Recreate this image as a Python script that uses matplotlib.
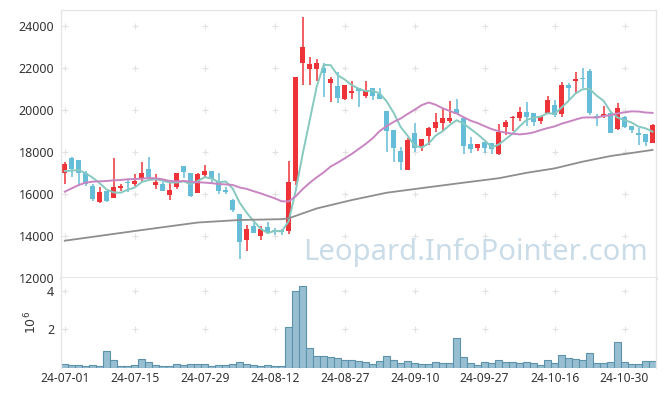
import numpy as np
import pandas as pd
import matplotlib
matplotlib.use("Agg")
import matplotlib.pyplot as plt
from matplotlib.ticker import FixedLocator

plt.rcParams["font.family"] = ["Noto Sans", "DejaVu Sans"]

# trading days (KRX calendar, Jul 1 - Nov 5 2024)
holidays = ["2024-08-15", "2024-09-16", "2024-09-17", "2024-09-18",
            "2024-10-01", "2024-10-03", "2024-10-09"]
dates = [d for d in pd.bdate_range("2024-07-01", "2024-11-05")
         if d.strftime("%Y-%m-%d") not in holidays]

opens = [16976, 17707, 17611, 17007, 16372, 15593, 16134, 15816, 16292, 16531,
         16483, 16721, 17182, 16435, 16467, 15959, 16340, 17325, 16992, 16052,
         16897, 17088, 16612, 16182, 15706, 15038, 13799, 14482, 14005, 14434,
         14291, 14275, 14244, 16628, 22221, 21966, 21966, 21998, 21283, 21124,
         20504, 20822, 21028, 20663, 21028, 20758, 19964, 19058, 18041, 17135,
         18899, 18248, 18772, 19153, 19392, 19487, 20027, 19598, 18359, 18200,
         18486, 18406, 17898, 19201, 19630, 19598, 19900, 19836, 19471, 19868,
         20234, 19804, 21203, 21393, 21505, 21870, 19709, 19709, 19836, 19074,
         19646, 19248, 18915, 18851, 18406]
highs = [17532, 17740, 17611, 17103, 16450, 16340, 16134, 17691, 16467, 16642,
         16944, 17500, 17738, 16944, 16578, 16547, 16992, 17325, 16992, 17000,
         17358, 17088, 16977, 16341, 15738, 15038, 14498, 14593, 14482, 14641,
         14354, 14323, 17581, 21553, 24413, 22507, 22411, 22221, 21585, 21823,
         21204, 21362, 21028, 21362, 21028, 21028, 19964, 19058, 18216, 18677,
         19392, 18597, 19169, 19836, 20107, 20440, 20536, 19598, 18724, 18359,
         18486, 18406, 19328, 19518, 19709, 20122, 20376, 19836, 19709, 20663,
         20472, 21314, 21266, 21791, 21981, 21934, 19789, 20202, 19916, 20313,
         19709, 19248, 19121, 18851, 19328]
lows = [16451, 16785, 16388, 16372, 15641, 15546, 15625, 15790, 16149, 16086,
        16372, 16626, 16785, 16213, 16149, 15688, 16245, 16737, 15863, 16020,
        16818, 16450, 15976, 15992, 15150, 12877, 13290, 14117, 13799, 14148,
        14037, 14037, 14085, 16421, 21172, 21188, 21378, 20600, 20361, 20314,
        20472, 20504, 20123, 20552, 20472, 20536, 17993, 17532, 17135, 17135,
        18009, 18057, 18311, 18963, 18995, 19360, 19789, 17882, 17930, 18041,
        17930, 17882, 17850, 18803, 19010, 19471, 19232, 19232, 19328, 19836,
        19646, 19677, 20472, 20758, 21028, 19757, 19249, 19598, 18883, 19042,
        19121, 18883, 18327, 18295, 18406]
closes = [17436, 17198, 16976, 16451, 15768, 16102, 15673, 16324, 16388, 16499,
          16610, 16992, 16785, 16578, 16149, 16181, 16992, 17055, 15895, 16929,
          17088, 16691, 16150, 16087, 15229, 13688, 14323, 14117, 14323, 14180,
          14228, 14180, 16580, 21553, 22983, 22189, 22237, 21776, 21474, 20584,
          21172, 20901, 20917, 20901, 20663, 20536, 19010, 18184, 17532, 18565,
          18168, 18597, 19121, 19408, 19614, 19614, 19789, 18295, 18136, 18359,
          18168, 18120, 18946, 19423, 19677, 19900, 19677, 19439, 19709, 20472,
          19757, 21187, 21028, 21473, 21473, 19836, 19598, 19789, 18883, 20075,
          19201, 19042, 18803, 18486, 19280]
# volume in millions of shares
volume = [0.17, 0.12, 0.12, 0.07, 0.12, 0.07, 0.85, 0.38, 0.07, 0.07,
          0.12, 0.43, 0.28, 0.12, 0.07, 0.07, 0.17, 0.12, 0.17, 0.17,
          0.17, 0.07, 0.12, 0.12, 0.17, 0.28, 0.17, 0.12, 0.07, 0.12,
          0.07, 0.07, 2.10, 3.98, 4.26, 1.01, 0.59, 0.59, 0.54, 0.49,
          0.38, 0.38, 0.33, 0.28, 0.17, 0.33, 0.59, 0.38, 0.23, 0.33,
          0.23, 0.17, 0.17, 0.28, 0.23, 0.23, 1.53, 0.54, 0.23, 0.12,
          0.28, 0.23, 0.38, 0.28, 0.28, 0.23, 0.28, 0.23, 0.12, 0.38,
          0.23, 0.64, 0.49, 0.43, 0.38, 0.75, 0.23, 0.23, 0.28, 1.32,
          0.28, 0.17, 0.17, 0.33, 0.33]

# moving-average values before enough closes exist
ma5_head = [17087, 17103, 17135, 16976]
ma20_head = [16102, 16261, 16420, 16531, 16578, 16594, 16610, 16642, 16658, 16690,
             16705, 16721, 16753, 16737, 16690, 16610, 16594, 16610, 16578]
# 120-day MA (index, value)
ma120_idx = [0, 10, 19, 25, 31, 32, 36, 41, 46, 51, 57, 62, 66, 70, 74, 78, 84]
ma120_val = [13763, 14225, 14630, 14750, 14790, 14830, 15300, 15700, 16050,
             16270, 16530, 16740, 17000, 17210, 17530, 17800, 18090]

UP = "#ee3338"
DOWN = "#66bdd8"

x = np.arange(len(closes))
o = np.array(opens)
c = np.array(closes)
up = c >= o

ma5 = pd.Series(closes).rolling(5).mean().to_numpy()
ma5[:4] = ma5_head
ma20 = pd.Series(closes).rolling(20).mean().to_numpy()
ma20[:19] = ma20_head

fig = plt.figure(figsize=(6.65, 3.96), dpi=100)
ax = fig.add_axes([0.0922, 0.298, 0.8943, 0.6768])
axv = fig.add_axes([0.0922, 0.0717, 0.8943, 0.2263], sharex=ax)

# candles
colors = np.where(up, UP, DOWN)
ax.vlines(x, lows, highs, colors=colors, linewidth=1.1, zorder=2)
body = np.maximum(np.abs(c - o), 40)
ax.bar(x, body, bottom=np.minimum(o, c), width=0.72, color=colors, zorder=2)

ax.plot(x, ma5, color="#86c9c0", linewidth=1.4, zorder=3)
ax.plot(x, ma20, color="#c985c2", linewidth=1.4, zorder=3)
ax.plot(ma120_idx, ma120_val, color="#8e8e8e", linewidth=1.3, zorder=3)

ax.text(0.697, 0.095, "Leopard.InfoPointer.com", transform=ax.transAxes,
        fontsize=21, color="#c9dce8", ha="center", va="center", zorder=1)

# volume
axv.bar(x, volume, width=1.0, color="#97bfd1", edgecolor="#5c92ac",
        linewidth=0.8)

ax.set_xlim(-0.5, len(closes) - 0.5)
ax.set_ylim(11985, 24763)
axv.set_ylim(0, 4.68)

yt = np.arange(12000, 24001, 2000)
ax.yaxis.set_major_locator(FixedLocator(yt))
axv.yaxis.set_major_locator(FixedLocator([2, 4]))
xt = x[::10]
axv.xaxis.set_major_locator(FixedLocator(xt))
axv.set_xticklabels([dates[i].strftime("%y-%m-%d") for i in xt])
plt.setp(ax.get_xticklabels(), visible=False)

for a in (ax, axv):
    a.tick_params(length=0, labelsize=9, colors="#333333")
    for s in a.spines.values():
        s.set_color("#e6e6e6")
        s.set_linewidth(1)
ax.tick_params(axis="y", pad=5)
axv.tick_params(axis="y", pad=5)
axv.tick_params(axis="x", pad=3, labelsize=8.7)
ax.spines["bottom"].set_linewidth(2.2)
axv.spines["bottom"].set_visible(False)
axv.spines["top"].set_visible(False)

# "+" grid marks at tick crossings
gx, gy = np.meshgrid(xt, yt[1:])
ax.plot(gx.ravel(), gy.ravel(), "+", color="#e2e2e2", markersize=4, mew=0.8, zorder=0)
gx, gy = np.meshgrid(xt, [2, 4])
axv.plot(gx.ravel(), gy.ravel(), "+", color="#e2e2e2", markersize=4, mew=0.8, zorder=0)

axv.set_ylabel("$10^6$", fontsize=9, color="#333333", labelpad=6)

fig.savefig("out.png", dpi=100)
